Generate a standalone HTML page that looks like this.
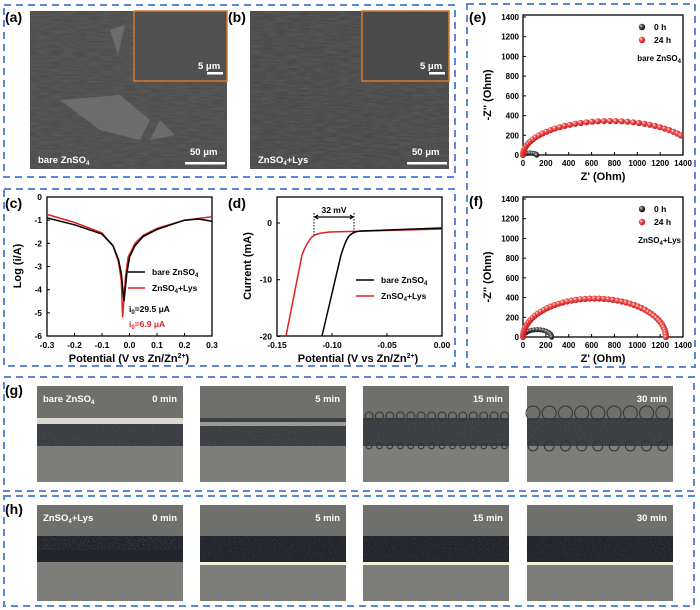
<!DOCTYPE html>
<html><head><meta charset="utf-8"><style>
body{margin:0;background:#fff}
svg{display:block;font-family:"Liberation Sans",Arial,sans-serif;font-weight:bold}
</style></head><body>
<svg id="s" width="700" height="610" viewBox="0 0 700 610" xmlns="http://www.w3.org/2000/svg">
<defs>
<filter id="nz" x="0" y="0" width="100%" height="100%"><feTurbulence type="fractalNoise" baseFrequency="0.08 0.6" numOctaves="2" seed="3"/><feColorMatrix type="matrix" values="0 0 0 0 0.15  0 0 0 0 0.15  0 0 0 0 0.15  0.7 0 0 0 -0.1"/><feComposite in2="SourceGraphic" operator="in"/></filter>
<filter id="nz2" x="0" y="0" width="100%" height="100%"><feTurbulence type="fractalNoise" baseFrequency="1.2" numOctaves="1" seed="7"/><feColorMatrix type="matrix" values="0 0 0 0 1  0 0 0 0 1  0 0 0 0 1  1.6 0 0 0 -0.9"/><feComposite in2="SourceGraphic" operator="in"/></filter>
<radialGradient id="rd" cx="0.35" cy="0.35" r="0.7"><stop offset="0" stop-color="#fff"/><stop offset="0.3" stop-color="#f06060"/><stop offset="1" stop-color="#c80808"/></radialGradient>
<radialGradient id="bk" cx="0.35" cy="0.35" r="0.7"><stop offset="0" stop-color="#ddd"/><stop offset="0.35" stop-color="#555"/><stop offset="1" stop-color="#000"/></radialGradient>
</defs>
<g fill="none" stroke="#5b87d6" stroke-width="2" stroke-dasharray="7,5">
<rect x="4" y="5" width="451" height="172"/>
<rect x="4" y="189" width="451" height="177"/>
<rect x="467" y="4" width="228" height="363"/>
<rect x="4" y="377" width="690" height="114"/>
<rect x="4" y="496" width="690" height="110"/>
</g>
<!-- SEM -->
<rect x="30" y="11" width="197" height="158" fill="#4a4a4a"/>
<rect x="30" y="11" width="197" height="158" fill="#000" filter="url(#nz)"/>
<path d="M60 100 L120 95 L150 120 L140 140 L100 130 Z M110 30 L125 25 L118 55 Z M160 120 L175 135 L150 140 Z" fill="#777" opacity="0.7"/>
<rect x="134" y="11" width="93" height="70" fill="#505050" stroke="#d9772b" stroke-width="1.5"/>
<rect x="250" y="11" width="199" height="158" fill="#464646"/>
<rect x="250" y="11" width="199" height="158" fill="#000" filter="url(#nz)"/>
<rect x="362" y="11" width="87" height="70" fill="#4a4a4a" stroke="#d9772b" stroke-width="1.5"/>
<g fill="#fff" font-size="9.5">
<text x="198" y="69">5 μm</text><rect x="207" y="72" width="16" height="2.5"/>
<text x="420" y="69">5 μm</text><rect x="429" y="72" width="16" height="2.5"/>
<text x="190" y="155">50 μm</text><rect x="185" y="162" width="40" height="2.5"/>
<text x="412" y="155">50 μm</text><rect x="407" y="162" width="40" height="2.5"/>
<text x="38" y="163">bare ZnSO<tspan font-size="6" dy="2">4</tspan></text>
<text x="258" y="163">ZnSO<tspan font-size="6" dy="2">4</tspan><tspan dy="-2">+Lys</tspan></text>
</g>
<g font-size="14" fill="#000">
<text x="5" y="22">(a)</text><text x="228" y="22">(b)</text><text x="469" y="22">(e)</text>
<text x="5" y="208">(c)</text><text x="228" y="208">(d)</text><text x="469" y="206">(f)</text>
<text x="5" y="395">(g)</text><text x="5" y="514">(h)</text>
</g>
<g id="plots"></g>
<g id="photos"></g>
</svg>
<script>
const NS="http://www.w3.org/2000/svg",P=document.getElementById('plots'),PH=document.getElementById('photos');
function el(t,a,p,txt){const e=document.createElementNS(NS,t);for(const k in a)e.setAttribute(k,a[k]);if(txt!==undefined)e.innerHTML=txt;(p||P).appendChild(e);return e;}
function frame(x1,y1,x2,y2){el('rect',{x:x1,y:y1,width:x2-x1,height:y2-y1,fill:'none',stroke:'#000','stroke-width':1.3});}
function txt(x,y,s,o){o=o||{};el('text',Object.assign({x:x,y:y,'font-size':9,'text-anchor':'middle'},o),null,s);}
// c
frame(47,197,212,336);
for(let i=0;i<=6;i++){let y=197+i*23.17;txt(42,y+3,i?'-'+i:'0',{'text-anchor':'end','font-size':8.5});el('line',{x1:47,x2:50,y1:y,y2:y,stroke:'#000'});}
[-0.3,-0.2,-0.1,0,0.1,0.2,0.3].forEach(v=>{let x=47+(v+0.3)/0.6*165;txt(x,348,v.toFixed(1).replace('-0.0','0.0'),{'font-size':8.5});el('line',{x1:x,x2:x,y1:336,y2:333,stroke:'#000'});});
txt(129,362,'Potential (V vs Zn/Zn<tspan font-size="7" dy="-4">2+</tspan><tspan dy="4">)</tspan>',{'font-size':11});
el('text',{x:0,y:0,'font-size':11,'text-anchor':'middle',transform:'translate(21,266) rotate(-90)'},null,'Log (i/A)');
const cb=[[-0.3,-0.9],[-0.2,-1.2],[-0.1,-1.6],[-0.06,-2.1],[-0.04,-2.7],[-0.03,-3.3],[-0.02,-4.5],[-0.01,-3.3],[0,-2.6],[0.02,-2.1],[0.05,-1.7],[0.1,-1.4],[0.2,-1.0],[0.25,-0.95],[0.3,-1.05]];
const cr=[[-0.3,-0.75],[-0.2,-1.1],[-0.1,-1.55],[-0.06,-2.1],[-0.04,-2.8],[-0.03,-3.6],[-0.025,-5.2],[-0.015,-3.5],[-0.005,-2.6],[0.02,-2.0],[0.05,-1.65],[0.1,-1.35],[0.2,-1.0],[0.3,-0.85]];
const pc=a=>a.map(p=>(47+(p[0]+0.3)/0.6*165).toFixed(1)+','+(197-23.17*p[1]).toFixed(1)).join(' ');
el('polyline',{points:pc(cr),fill:'none',stroke:'#e02020','stroke-width':1.5});
el('polyline',{points:pc(cb),fill:'none',stroke:'#000','stroke-width':1.5});
el('line',{x1:128,x2:145,y1:272,y2:272,stroke:'#000','stroke-width':1.5});txt(152,275,'bare ZnSO<tspan font-size="6" dy="2">4</tspan>',{'text-anchor':'start','font-size':8.5});
el('line',{x1:128,x2:145,y1:288,y2:288,stroke:'#e02020','stroke-width':1.5});txt(152,291,'ZnSO<tspan font-size="6" dy="2">4</tspan><tspan dy="-2">+Lys</tspan>',{'text-anchor':'start','font-size':8.5});
txt(129,312,'i<tspan font-size="6" dy="2">0</tspan><tspan dy="-2">=29.5 μA</tspan>',{'text-anchor':'start','font-size':8.5});
txt(129,327,'i<tspan font-size="6" dy="2">0</tspan><tspan dy="-2">=6.9 μA</tspan>',{'text-anchor':'start','font-size':8.5,fill:'#e02020'});
// d
frame(277,197,442,336);
[0,-10,-20].forEach(v=>{let y=223-5.67*v;txt(272,y+3,v,{'text-anchor':'end','font-size':8.5});el('line',{x1:277,x2:280,y1:y,y2:y,stroke:'#000'});});
[[-0.15,'-0.15'],[-0.1,'-0.10'],[-0.05,'-0.05'],[0,'0.00']].forEach(v=>{let x=442+1100*v[0];txt(x,348,v[1],{'font-size':8.5});el('line',{x1:x,x2:x,y1:336,y2:333,stroke:'#000'});});
txt(358,362,'Potential (V vs Zn/Zn<tspan font-size="7" dy="-4">2+</tspan><tspan dy="4">)</tspan>',{'font-size':11});
el('text',{x:0,y:0,'font-size':11,'text-anchor':'middle',transform:'translate(251,266) rotate(-90)'},null,'Current (mA)');
el('path',{d:'M442,229 L330,232 C320,233 315,234 312,237 C308,241 305,247 302,255 L286,336',fill:'none',stroke:'#e02020','stroke-width':1.5});
el('path',{d:'M442,228 L360,231 C355,231.5 352,233 349,236 C346,240 344,246 341,255 L322,336',fill:'none',stroke:'#000','stroke-width':1.5});
el('line',{x1:314,x2:314,y1:213,y2:235,stroke:'#000','stroke-dasharray':'1.5,1.5'});el('line',{x1:354,x2:354,y1:213,y2:232,stroke:'#000','stroke-dasharray':'1.5,1.5'});
el('path',{d:'M315,217 L353,217 M318,215 L315,217 L318,219 M350,215 L353,217 L350,219',fill:'none',stroke:'#000','stroke-width':1.2});
txt(334,213,'32 mV',{'font-size':8.5});
el('line',{x1:356,x2:374,y1:280,y2:280,stroke:'#000','stroke-width':1.5});txt(381,283,'bare ZnSO<tspan font-size="6" dy="2">4</tspan>',{'text-anchor':'start','font-size':8.5});
el('line',{x1:356,x2:374,y1:296,y2:296,stroke:'#e02020','stroke-width':1.5});txt(381,299,'ZnSO<tspan font-size="6" dy="2">4</tspan><tspan dy="-2">+Lys</tspan>',{'text-anchor':'start','font-size':8.5});
// e,f
function nyq(top,bot,red,blk,lab){
 frame(523,top-2,683,bot);const sy=(bot-top)/1400;
 for(let v=0;v<=1400;v+=200){let y=bot-v*sy;txt(519,y+3,v,{'text-anchor':'end','font-size':8});el('line',{x1:523,x2:526,y1:y,y2:y,stroke:'#000'});
  let x=523+v*0.1143;txt(x,bot+11,v,{'font-size':8});el('line',{x1:x,x2:x,y1:bot,y2:bot-3,stroke:'#000'});}
 txt(603,bot+25,"Z' (Ohm)",{'font-size':11});
 el('text',{x:0,y:0,'font-size':11,'text-anchor':'middle',transform:'translate(491,'+(bot-60)+') rotate(-90)'},null,"-Z'' (Ohm)");
 const f=(R,H,end,n,g,r)=>{for(let i=0;i<=n;i++){let t=Math.PI*i/n;let z=R-R*Math.cos(t),h=H*Math.sin(t);if(z>end)break;
   el('circle',{cx:(523+z*0.1143).toFixed(1),cy:(bot-h*sy).toFixed(1),r:r,fill:'url(#'+g+')'});}};
 f(blk[0],blk[1],9999,blk[2],'bk',2.6);
 f(red[0],red[1],red[2],red[3],'rd',3.1);
 el('circle',{cx:642,cy:top+10,r:3.2,fill:'url(#bk)'});txt(654,top+13,'0 h',{'text-anchor':'start','font-size':8.5});
 el('circle',{cx:642,cy:top+23,r:3.2,fill:'url(#rd)'});txt(654,top+26,'24 h',{'text-anchor':'start','font-size':8.5});
 txt(681,top+44,lab,{'text-anchor':'end','font-size':8});
}
nyq(17,155,[760,345,1400,46],[60,20,8],'bare ZnSO<tspan font-size="6" dy="2">4</tspan>');
nyq(199,337,[625,390,1250,48],[125,75,14],'ZnSO<tspan font-size="6" dy="2">4</tspan><tspan dy="-2">+Lys</tspan>');
// photos
const xs=[37,200,363,527],labs=['0 min','5 min','15 min','30 min'];
function photo(x,y,h,kind,i){
 el('rect',{x:x,y:y,width:146,height:h,fill:'#7d7e7a'},PH);
 el('rect',{x:x,y:y,width:146,height:h*0.35,fill:'#6f706c'},PH);
 if(kind=='g'){
  const bandTop=y+32,bandBot=y+60;
  el('rect',{x:x,y:bandTop,width:146,height:bandBot-bandTop,fill:'#3a3d42'},PH);
  el('rect',{x:x,y:bandTop,width:146,height:bandBot-bandTop,fill:'#fff',filter:'url(#nz2)',opacity:0.5},PH);
  if(i==0)el('rect',{x:x,y:bandTop,width:146,height:6,fill:'#d8d8d0'},PH);
  if(i==1)el('rect',{x:x,y:bandTop+4,width:146,height:4,fill:'#9a9a95'},PH);
  if(i>=2){for(let k=0;k<(i==2?14:9);k++){let r=i==2?4:7;el('circle',{cx:x+6+k*(146/(i==2?14:9)),cy:bandTop-r+2,r:r,fill:'none',stroke:'#333','stroke-width':1},PH);
     el('circle',{cx:x+6+k*(146/(i==2?14:9)),cy:bandBot,r:r*0.7,fill:'none',stroke:'#333','stroke-width':1},PH);}}
 } else {
  const bt=y+31;
  el('rect',{x:x,y:bt,width:146,height:26,fill:'#22252c'},PH);
  el('rect',{x:x,y:bt,width:146,height:(i==0?14:24),fill:'#fff',filter:'url(#nz2)',opacity:i==0?0.9:0.55},PH);
  if(i>0)el('rect',{x:x,y:bt+26,width:146,height:3,fill:'#f3f0d8'},PH);
 }
 el('text',{x:x+140,y:y+16,'font-size':9.5,fill:'#fff','text-anchor':'end'},PH,labs[i]);
}
xs.forEach((x,i)=>{photo(x,386,96,'g',i);photo(x,505,96,'h',i);});
el('text',{x:43,y:402,'font-size':9.5,fill:'#fff'},PH,'bare ZnSO<tspan font-size="6" dy="2">4</tspan>');
el('text',{x:43,y:521,'font-size':9.5,fill:'#fff'},PH,'ZnSO<tspan font-size="6" dy="2">4</tspan><tspan dy="-2">+Lys</tspan>');
</script>
</body></html>
